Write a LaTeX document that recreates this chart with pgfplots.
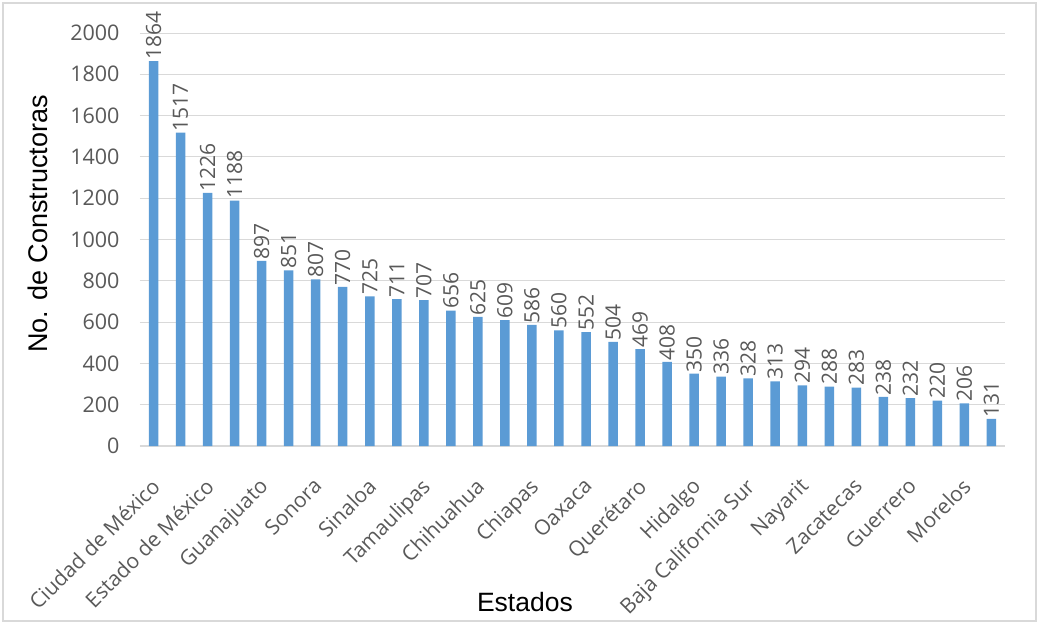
\documentclass[border=0pt]{standalone}
\usepackage{pgfplots}
\pgfplotsset{compat=1.18}
\usepackage{fontspec}
\setmainfont{Open Sans}
\newfontfamily\titlefont{Liberation Sans}
\definecolor{barblue}{HTML}{5B9BD5}
\definecolor{gridgray}{HTML}{D9D9D9}
\definecolor{txtgray}{HTML}{595959}
\definecolor{framegray}{HTML}{D9D9D9}

\begin{document}
\begin{tikzpicture}[x=1pt,y=1pt]
\useasboundingbox (-140,-178) rectangle (899,446);
\draw[framegray, line width=1.2pt] (-137,-175) rectangle (896,443);
\begin{axis}[
  at={(0,0)}, anchor=south west,
  scale only axis,
  width=865pt, height=413pt,
  xmin=-0.5, xmax=31.5,
  ymin=0, ymax=2000,
  ytick={0,200,...,2000},
  xtick={0,2,...,30},
  xticklabels={Ciudad de México, Estado de México, Guanajuato, Sonora, Sinaloa, Tamaulipas, Chihuahua, Chiapas, Oaxaca, Querétaro, Hidalgo, Baja California Sur, Nayarit, Zacatecas, Guerrero, Morelos},
  /pgf/number format/assume math mode=true,
  /pgf/number format/1000 sep={},
  axis x line*=bottom,
  axis y line*=left,
  y axis line style={draw=none},
  x axis line style={gridgray, line width=1.2pt, -},
  ymajorgrids,
  grid style={gridgray, line width=1pt},
  major tick length=0pt,
  tick style={draw=none},
  yticklabel style={font=\fontsize{21.5}{24}\selectfont, text=txtgray, xshift=-17pt},
  xticklabel style={font=\fontsize{21}{23}\selectfont, text=txtgray, rotate=45, anchor=north east, inner sep=0pt, xshift=-24pt, yshift=-19pt},
  ylabel={No. de Constructoras},
  xlabel={Estados},
  every axis y label/.style={at={(rel axis cs:-0.118,0.5375)}, rotate=90, anchor=center, font=\titlefont\fontsize{27}{30}\selectfont},
  every axis x label/.style={at={(rel axis cs:0.445,-0.378)}, anchor=center, font=\titlefont\fontsize{26.5}{30}\selectfont},
  clip=false,
]
\addplot[ybar, bar width=9.5pt, fill=barblue, draw=none,
  nodes near coords,
  every node near coord/.style={rotate=90, anchor=west, inner sep=1.5pt, font=\fontsize{21}{23}\selectfont, text=txtgray}]
coordinates {
(0,1864) (1,1517) (2,1226) (3,1188) (4,897) (5,851) (6,807) (7,770)
(8,725) (9,711) (10,707) (11,656) (12,625) (13,609) (14,586) (15,560)
(16,552) (17,504) (18,469) (19,408) (20,350) (21,336) (22,328) (23,313)
(24,294) (25,288) (26,283) (27,238) (28,232) (29,220) (30,206) (31,131)
};
\end{axis}
\end{tikzpicture}
\end{document}
